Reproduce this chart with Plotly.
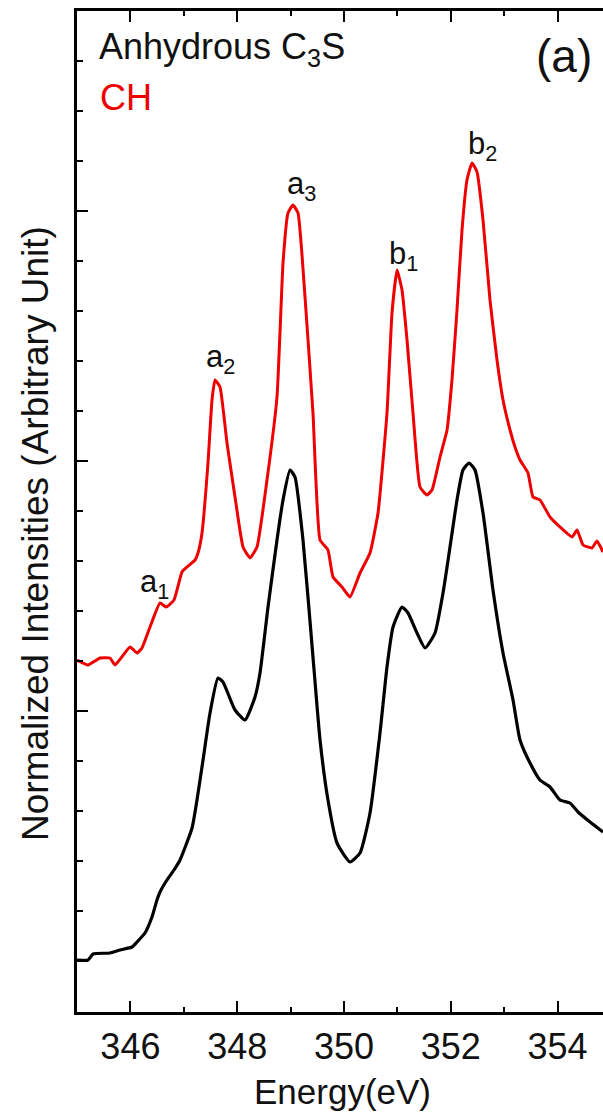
import plotly.graph_objects as go

# Energy axis (eV) and normalized intensities for the CH spectrum
ch_energy = [345.000, 345.206, 345.431, 345.618, 345.712, 345.993, 346.124, 346.217, 346.367, 346.554,
             346.667, 346.816, 346.966, 347.060, 347.210, 347.266, 347.341, 347.453, 347.528, 347.584,
             347.678, 347.809, 347.959, 348.109, 348.240, 348.371, 348.558, 348.745, 348.858, 348.951,
             349.045, 349.139, 349.270, 349.419, 349.551, 349.700, 349.794, 349.963, 350.112, 350.300,
             350.487, 350.637, 350.805, 350.899, 350.993, 351.086, 351.180, 351.292, 351.423, 351.554,
             351.648, 351.798, 351.929, 352.022, 352.116, 352.210, 352.303, 352.397, 352.491, 352.603,
             352.734, 352.865, 352.978, 353.109, 353.202, 353.296, 353.446, 353.539, 353.670, 353.858,
             354.045, 354.270, 354.363, 354.476, 354.644, 354.738, 354.850]
ch_intensity = [6.02, 5.92, 6.06, 6.06, 5.92, 6.28, 6.16, 6.26, 6.68, 7.16,
                7.08, 7.22, 7.78, 7.88, 8.02, 8.16, 8.56, 9.96, 11.22, 11.62,
                11.48, 10.36, 9.28, 8.28, 8.06, 8.28, 9.62, 11.28, 13.96, 14.96,
                15.12, 14.96, 13.28, 10.96, 8.42, 8.22, 7.68, 7.48, 7.28, 7.76,
                8.16, 8.96, 10.96, 12.96, 13.82, 13.42, 12.42, 10.96, 9.48, 9.32,
                9.42, 10.08, 10.62, 11.62, 13.02, 14.62, 15.62, 15.96, 15.78, 14.82,
                13.22, 12.02, 11.22, 10.62, 10.28, 10.02, 9.76, 9.28, 9.22, 8.88,
                8.68, 8.48, 8.62, 8.32, 8.26, 8.40, 8.18]

# Anhydrous C3S spectrum
c3s_energy = [345.000, 345.206, 345.300, 345.618, 345.805, 346.030, 346.124, 346.273, 346.404, 346.498,
              346.554, 346.685, 346.816, 346.929, 347.154, 347.247, 347.360, 347.491, 347.640, 347.734,
              347.959, 348.146, 348.333, 348.427, 348.577, 348.745, 348.858, 348.989, 349.082, 349.232,
              349.419, 349.551, 349.700, 349.869, 350.112, 350.300, 350.487, 350.674, 350.805, 350.918,
              351.086, 351.199, 351.367, 351.517, 351.704, 351.854, 351.985, 352.116, 352.228, 352.341,
              352.453, 352.603, 352.790, 352.978, 353.165, 353.296, 353.483, 353.670, 353.858, 354.045,
              354.232, 354.382, 354.607, 354.850]
c3s_intensity = [0.02, 0.02, 0.14, 0.16, 0.22, 0.28, 0.38, 0.56, 0.88, 1.22,
                 1.38, 1.62, 1.82, 2.02, 2.66, 3.22, 4.02, 4.96, 5.66, 5.58,
                 5.02, 4.82, 5.28, 5.76, 7.08, 8.42, 9.22, 9.82, 9.68, 8.42,
                 6.08, 4.42, 3.22, 2.36, 1.98, 2.16, 2.96, 4.56, 5.88, 6.68,
                 7.08, 6.96, 6.56, 6.26, 6.56, 7.36, 8.28, 9.22, 9.82, 9.96,
                 9.82, 8.96, 7.42, 6.16, 5.22, 4.42, 3.96, 3.62, 3.48, 3.22,
                 3.16, 2.98, 2.78, 2.58]

# Peak labels: text, energy, intensity
peak_text = ["a<sub>1</sub>", "a<sub>2</sub>", "a<sub>3</sub>", "b<sub>1</sub>", "b<sub>2</sub>"]
peak_energy = [346.45, 347.68, 349.20, 351.12, 352.60]
peak_level = [7.55, 12.05, 15.5, 14.1, 16.3]

X_RANGE = [345, 354.85]
Y_RANGE = [-1.02, 19.0]
FONT = "Arial, Liberation Sans, sans-serif"

fig = go.Figure()
fig.add_trace(go.Scatter(x=c3s_energy, y=c3s_intensity, mode="lines",
                         line=dict(color="#000000", width=3.2, shape="spline", smoothing=0.5),
                         showlegend=False))
# CH curve lives on the top x axis (same range) so the top frame gets its own ticks
fig.add_trace(go.Scatter(x=ch_energy, y=ch_intensity, mode="lines", xaxis="x2",
                         line=dict(color="#ee0000", width=3, shape="spline", smoothing=0.4),
                         showlegend=False))

axis_common = dict(showline=True, linecolor="black", linewidth=2.5, showgrid=False,
                   zeroline=False, ticks="inside", tickcolor="black", tickwidth=2.2)
minor_x = dict(dtick=1, ticks="inside", ticklen=5, tickwidth=2, tickcolor="black")

fig.update_layout(
    xaxis=dict(range=X_RANGE, tick0=346, dtick=2, ticklen=11,
               tickfont=dict(family=FONT, size=36, color="#111"),
               ticklabelstandoff=1, minor=minor_x, **axis_common),
    xaxis2=dict(range=X_RANGE, tick0=346, dtick=2, ticklen=11, overlaying="x",
                side="top", anchor="y", showticklabels=False, minor=minor_x, **axis_common),
    yaxis=dict(range=Y_RANGE, tick0=0, dtick=5, ticklen=11, showticklabels=False,
               minor=dict(dtick=1, ticks="inside", ticklen=6, tickwidth=2, tickcolor="black"),
               **axis_common),
)

annotations = []
for t, e, v in zip(peak_text, peak_energy, peak_level):
    annotations.append(dict(x=e, y=v, xref="x", yref="y", text=t, showarrow=False,
                            xanchor="center", yanchor="middle",
                            font=dict(family=FONT, size=31, color="#111")))

annotations += [
    dict(x=0.038, y=0.962, xref="paper", yref="paper", text="Anhydrous C<sub>3</sub>S",
         showarrow=False, xanchor="left", yanchor="middle",
         font=dict(family=FONT, size=36, color="#111")),
    dict(x=0.040, y=0.914, xref="paper", yref="paper", text="CH",
         showarrow=False, xanchor="left", yanchor="middle",
         font=dict(family=FONT, size=36, color="#ee0000")),
    dict(x=0.926, y=0.955, xref="paper", yref="paper", text="(a)",
         showarrow=False, xanchor="center", yanchor="middle",
         font=dict(family=FONT, size=46, color="#111")),
    dict(x=-0.080, y=0.4785, xref="paper", yref="paper",
         text="Normalized Intensities (Arbitrary Unit)", textangle=-90,
         showarrow=False, xanchor="center", yanchor="middle",
         font=dict(family=FONT, size=37, color="#111")),
    dict(x=0.504, y=-0.079, xref="paper", yref="paper", text="Energy(eV)",
         showarrow=False, xanchor="center", yanchor="middle",
         font=dict(family=FONT, size=35, color="#111")),
]

fig.update_layout(width=603, height=1112, margin=dict(l=77, r=0, t=11, b=100),
                  plot_bgcolor="white", paper_bgcolor="white",
                  annotations=annotations, showlegend=False)

fig.write_html("out.html", config={"displayModeBar": False})
